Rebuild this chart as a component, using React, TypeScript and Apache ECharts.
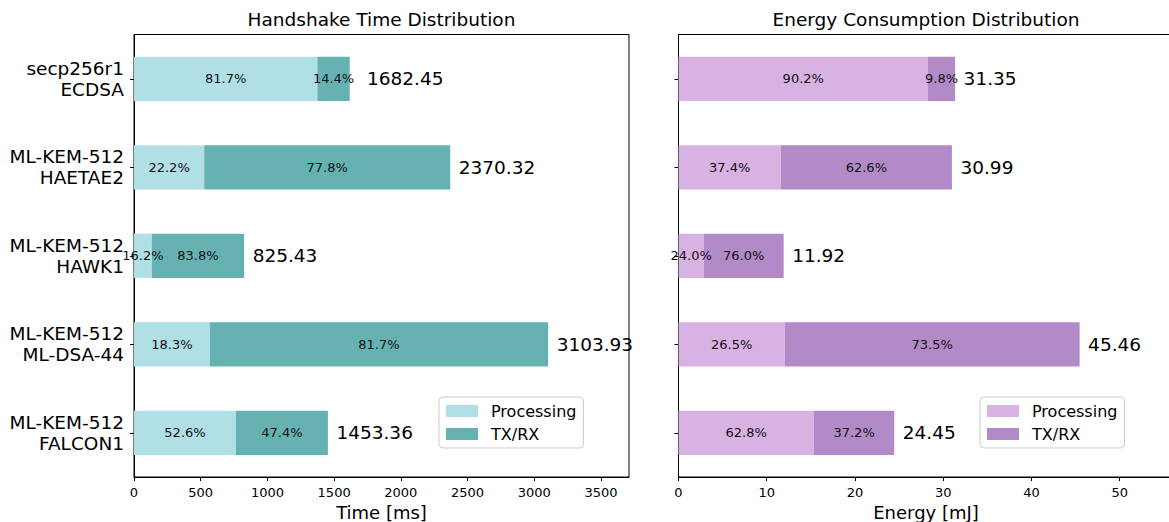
import React, { useEffect, useRef } from "react";
import * as echarts from "echarts";

const categories = [
  "secp256r1\nECDSA",
  "ML-KEM-512\nHAETAE2",
  "ML-KEM-512\nHAWK1",
  "ML-KEM-512\nML-DSA-44",
  "ML-KEM-512\nFALCON1",
];

// Handshake time [ms]
const timeTotal = [1682.45, 2370.32, 825.43, 3103.93, 1453.36];
const timeProcPct = [81.7, 22.2, 16.2, 18.3, 52.6];
const timeTxPct = [14.4, 77.8, 83.8, 81.7, 47.4];
const timeProc = [1374.6, 526.2, 133.7, 568.0, 764.5];
const timeTx = [242.3, 1844.1, 691.7, 2535.9, 688.9];

// Energy [mJ]
const energyTotal = [31.35, 30.99, 11.92, 45.46, 24.45];
const energyProcPct = [90.2, 37.4, 24.0, 26.5, 62.8];
const energyTxPct = [9.8, 62.6, 76.0, 73.5, 37.2];
const energyProc = [28.28, 11.59, 2.86, 12.05, 15.35];
const energyTx = [3.07, 19.4, 9.06, 33.41, 9.1];

const timeTicks = [0, 500, 1000, 1500, 2000, 2500, 3000, 3500];
const energyTicks = [0, 10, 20, 30, 40, 50];

const FONT = "DejaVu Sans";
const C_TIME_PROC = "#b0dfe5";
const C_TIME_TX = "#66b2b2";
const C_EN_PROC = "#d8b2e2";
const C_EN_TX = "#b28ac7";

export default function App() {
  const ref = useRef<HTMLDivElement>(null);

  useEffect(() => {
    if (!ref.current) return;
    const chart = echarts.init(ref.current, undefined, { renderer: "svg" });

    const gridTop = 34.5;
    const gridHeight = 442.5;
    const gridW = 495;
    const leftA = 134;
    const leftB = 678.5;

    const xAxisCommon = (idx: number, max: number, ticks: number[], name: string) => ({
      type: "value",
      gridIndex: idx,
      min: 0,
      max,
      name,
      nameLocation: "middle",
      nameGap: 20,
      nameTextStyle: { fontFamily: FONT, fontSize: 18, color: "#000" },
      splitLine: { show: false },
      axisLine: { show: true, lineStyle: { color: "#000", width: 1 } },
      axisTick: {
        show: true,
        length: 4,
        lineStyle: { color: "#000" },
        customValues: ticks,
      },
      axisLabel: {
        fontFamily: FONT,
        fontSize: 13,
        color: "#000",
        margin: 9,
        customValues: ticks,
        formatter: (v: number) => String(v),
      },
    });

    const yAxisCommon = (idx: number, showLabels: boolean) => ({
      type: "category",
      gridIndex: idx,
      data: categories,
      inverse: true,
      axisLine: { show: true, lineStyle: { color: "#000", width: 1 } },
      axisTick: {
        show: true,
        alignWithLabel: true,
        length: 4,
        lineStyle: { color: "#000" },
      },
      axisLabel: {
        show: showLabels,
        fontFamily: FONT,
        fontSize: 18.5,
        lineHeight: 21,
        color: "#000",
        margin: 10,
        align: "right",
      },
      splitLine: { show: false },
    });

    const pctLabel = (pcts: number[]) => ({
      show: true,
      position: "inside",
      fontFamily: FONT,
      fontSize: 13,
      color: "#111",
      formatter: (p: any) => `${pcts[p.dataIndex].toFixed(1)}%`,
    });

    const totalSeries = (idx: number, totals: number[]) => ({
      type: "scatter",
      xAxisIndex: idx,
      yAxisIndex: idx,
      data: totals.map((t, i) => [t, i]),
      symbolSize: 1,
      itemStyle: { color: "rgba(0,0,0,0)", opacity: 1 },
      silent: true,
      z: 10,
      label: {
        show: true,
        position: "right",
        distance: 8,
        fontFamily: FONT,
        fontSize: 18.5,
        color: "#000",
        opacity: 1,
        formatter: (p: any) => totals[p.dataIndex].toFixed(2),
      },
    });

    const legendCommon = (left: number, procColor: string, txColor: string) => ({
      orient: "vertical",
      left,
      top: 397,
      itemWidth: 32,
      itemHeight: 12,
      itemGap: 7,
      padding: [6, 7, 6, 7],
      icon: "rect",
      borderColor: "#cccccc",
      borderWidth: 1,
      borderRadius: 4,
      backgroundColor: "#ffffff",
      selectedMode: false,
      textStyle: {
        fontFamily: FONT,
        fontSize: 16,
        color: "#000",
        padding: [0, 0, 0, 8],
      },
      data: [
        { name: "Processing", itemStyle: { color: procColor } },
        { name: "TX/RX", itemStyle: { color: txColor } },
      ],
    });

    const gridCommon = (left: number) => ({
      left,
      top: gridTop,
      width: gridW,
      height: gridHeight,
      show: true,
      borderColor: "#000",
      borderWidth: 1,
      backgroundColor: "transparent",
      containLabel: false,
      outerBoundsMode: "none",
    });

    chart.setOption({
      animation: false,
      backgroundColor: "#ffffff",
      title: [
        {
          text: "Handshake Time Distribution",
          left: leftA + gridW / 2,
          textAlign: "center",
          top: 10,
          padding: 0,
          textStyle: { fontFamily: FONT, fontSize: 18.5, fontWeight: "normal", color: "#000" },
        },
        {
          text: "Energy Consumption Distribution",
          left: leftB + gridW / 2,
          textAlign: "center",
          top: 10,
          padding: 0,
          textStyle: { fontFamily: FONT, fontSize: 18.5, fontWeight: "normal", color: "#000" },
        },
      ],
      legend: [
        legendCommon(439, C_TIME_PROC, C_TIME_TX),
        legendCommon(980, C_EN_PROC, C_EN_TX),
      ],
      grid: [gridCommon(leftA), gridCommon(leftB)],
      xAxis: [
        xAxisCommon(0, 3710, timeTicks, "Time [ms]"),
        xAxisCommon(1, 56.1, energyTicks, "Energy [mJ]"),
      ],
      yAxis: [yAxisCommon(0, true), yAxisCommon(1, false)],
      series: [
        {
          name: "Processing",
          type: "bar",
          stack: "time",
          xAxisIndex: 0,
          yAxisIndex: 0,
          barWidth: "50%",
          data: timeProc,
          itemStyle: { color: C_TIME_PROC },
          label: pctLabel(timeProcPct),
        },
        {
          name: "TX/RX",
          type: "bar",
          stack: "time",
          xAxisIndex: 0,
          yAxisIndex: 0,
          barWidth: "50%",
          data: timeTx,
          itemStyle: { color: C_TIME_TX },
          label: pctLabel(timeTxPct),
        },
        {
          name: "Processing",
          type: "bar",
          stack: "energy",
          xAxisIndex: 1,
          yAxisIndex: 1,
          barWidth: "50%",
          data: energyProc,
          itemStyle: { color: C_EN_PROC },
          label: pctLabel(energyProcPct),
        },
        {
          name: "TX/RX",
          type: "bar",
          stack: "energy",
          xAxisIndex: 1,
          yAxisIndex: 1,
          barWidth: "50%",
          data: energyTx,
          itemStyle: { color: C_EN_TX },
          label: pctLabel(energyTxPct),
        },
        totalSeries(0, timeTotal),
        totalSeries(1, energyTotal),
      ],
    });

    return () => chart.dispose();
  }, []);

  return (
    <div
      ref={ref}
      style={{ position: "fixed", left: 0, top: 0, width: 1169, height: 522, background: "#fff" }}
    />
  );
}
